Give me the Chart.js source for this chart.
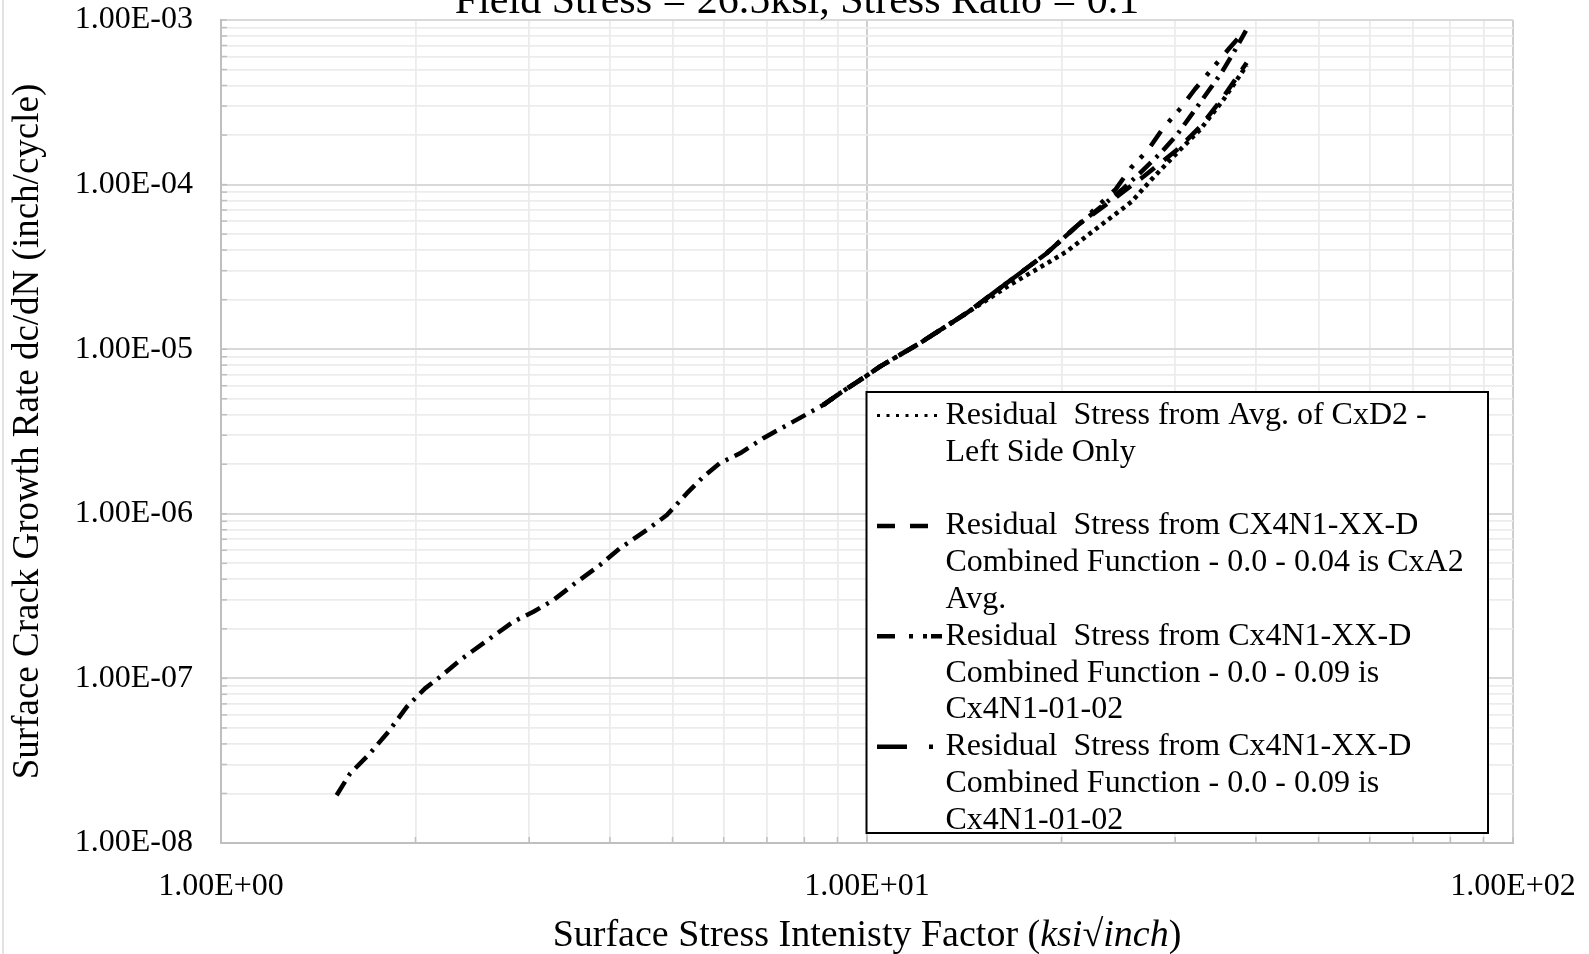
<!DOCTYPE html>
<html>
<head>
<meta charset="utf-8">
<script src="https://cdn.jsdelivr.net/npm/chart.js@4/dist/chart.umd.min.js"></script>
<style>
  html, body { margin: 0; padding: 0; background: #ffffff; }
  canvas { display: block; }
</style>
</head>
<body>
<canvas id="c" width="1589" height="954"></canvas>
<script>
// ---- text ----
const chartTitle = 'Field Stress = 26.5ksi, Stress Ratio = 0.1';
const yAxisTitle = 'Surface Crack Growth Rate dc/dN (inch/cycle)';
const xAxisTitleParts = [
  { text: 'Surface Stress Intenisty Factor (', italic: false },
  { text: 'ksi', italic: true },
  { text: '\u221A', italic: false },
  { text: 'inch', italic: true },
  { text: ')', italic: false }
];
const xTickLabels = ['1.00E+00', '1.00E+01', '1.00E+02'];
const yTickLabels = ['1.00E-08', '1.00E-07', '1.00E-06', '1.00E-05', '1.00E-04', '1.00E-03'];

const seriesLabels = [
  'Residual  Stress from Avg. of CxD2 -\nLeft Side Only\n',
  'Residual  Stress from CX4N1-XX-D\nCombined Function - 0.0 - 0.04 is CxA2\nAvg.',
  'Residual  Stress from Cx4N1-XX-D\nCombined Function - 0.0 - 0.09 is\nCx4N1-01-02',
  'Residual  Stress from Cx4N1-XX-D\nCombined Function - 0.0 - 0.09 is\nCx4N1-01-02'
];

// ---- data: stress intensity K (ksi*sqrt(in)) and growth rate dc/dN (in/cycle) ----
const cxd2K = [8.56, 9.08, 9.93, 10.47, 12.08, 14.27, 16.65, 19.2, 20.37, 22.0, 24.35, 25.7, 27.6, 30.2, 32.8, 35.6, 38.7];
const cxd2Rate = [4.59e-6, 5.4e-6, 6.8e-6, 7.84e-6, 1.09e-5, 1.66e-5, 2.46e-5, 3.41e-5, 3.92e-5, 4.95e-5, 6.71e-5, 7.89e-5, 1.08e-4, 1.56e-4, 2.16e-4, 3.27e-4, 5.3e-4];

const cxa2K = [8.56, 9.08, 9.93, 10.47, 12.08, 14.27, 16.45, 18.98, 21.12, 23.5, 26.8, 30.2, 32.8, 35.6, 38.7];
const cxa2Rate = [4.59e-6, 5.4e-6, 6.8e-6, 7.84e-6, 1.09e-5, 1.66e-5, 2.52e-5, 3.83e-5, 5.6e-5, 7.6e-5, 1.12e-4, 1.63e-4, 2.25e-4, 3.4e-4, 5.5e-4];

const cx4aK = [8.56, 9.08, 9.93, 10.47, 12.08, 14.27, 16.45, 18.98, 21.12, 22.6, 24.27, 25.6, 27.25, 28.75, 30.6, 32.2, 34.2, 36.3, 38.3];
const cx4aRate = [4.59e-6, 5.4e-6, 6.8e-6, 7.84e-6, 1.09e-5, 1.66e-5, 2.52e-5, 3.83e-5, 5.6e-5, 7.2e-5, 9.39e-5, 1.26e-4, 1.63e-4, 2.21e-4, 2.92e-4, 3.81e-4, 5.04e-4, 6.66e-4, 8.49e-4];

const cx4bK = [1.51, 1.584, 1.70, 1.816, 1.939, 2.07, 2.183, 2.344, 2.609, 2.835, 3.045, 3.27, 3.532, 3.862, 4.146, 4.56, 4.90, 5.26, 5.58, 5.92, 6.36, 6.91, 7.69, 8.56, 9.08, 9.93, 10.47, 12.08, 14.27, 16.45, 18.98, 21.12, 23.0, 24.8, 26.55, 28.45, 30.2, 31.9, 33.6, 35.4, 37.1, 38.6];
const cx4bRate = [1.95e-8, 2.64e-8, 3.5e-8, 4.74e-8, 6.72e-8, 8.7e-8, 1.02e-7, 1.29e-7, 1.75e-7, 2.21e-7, 2.54e-7, 2.99e-7, 3.78e-7, 4.89e-7, 6.17e-7, 7.97e-7, 9.83e-7, 1.33e-6, 1.68e-6, 2.03e-6, 2.33e-6, 2.88e-6, 3.63e-6, 4.59e-6, 5.4e-6, 6.8e-6, 7.84e-6, 1.09e-5, 1.66e-5, 2.52e-5, 3.83e-5, 5.6e-5, 7.3e-5, 9.3e-5, 1.19e-4, 1.55e-4, 2.01e-4, 2.71e-4, 3.6e-4, 4.8e-4, 6.53e-4, 8.61e-4];

// ---- line styles (plot dash + legend swatch dash) ----
const lineStyles = [
  { width: 4.5, dash: [4, 4.3], legendWidth: 3, legendDash: [3, 6.5] },
  { width: 4.5, dash: [18, 12], legendWidth: 4.5, legendDash: [18, 15, 18, 60] },
  { width: 4.5, dash: [18, 12, 4, 10, 4, 12], legendWidth: 4.5, legendDash: [18, 14, 4, 10, 4, 4, 11, 40] },
  { width: 4.5, dash: [16, 7, 3, 7], legendWidth: 4.5, legendDash: [30, 22, 4, 40] }
];

const FONT = '"Liberation Serif", "Times New Roman", serif';

function pairs(xs, ys) { return xs.map((x, i) => ({ x: x, y: ys[i] })); }
function isDecade(v) {
  const l = Math.log10(v);
  return Math.abs(l - Math.round(l)) < 1e-6;
}
function logTicks(minExp, maxExp) {
  const out = [];
  for (let e = minExp; e < maxExp; e++) {
    for (let m = 1; m <= 9; m++) out.push({ value: m * Math.pow(10, e) });
  }
  out.push({ value: Math.pow(10, maxExp) });
  return out;
}

const seriesData = [pairs(cxd2K, cxd2Rate), pairs(cxa2K, cxa2Rate), pairs(cx4aK, cx4aRate), pairs(cx4bK, cx4bRate)];

const datasets = seriesData.map((d, i) => ({
  label: seriesLabels[i],
  data: d,
  showLine: true,
  fill: false,
  borderColor: '#000000',
  backgroundColor: '#000000',
  borderWidth: lineStyles[i].width,
  borderDash: lineStyles[i].dash,
  borderCapStyle: 'butt',
  borderJoinStyle: 'round',
  pointRadius: 0,
  tension: 0
}));

// title, axis titles, inside ticks and the boxed legend
const decorations = {
  id: 'decorations',
  beforeDatasetsDraw(chart) {
    const ctx = chart.ctx;
    const xs = chart.scales.x, ys = chart.scales.y;
    const area = chart.chartArea;
    ctx.save();
    ctx.strokeStyle = '#bfbfbf';
    ctx.lineWidth = 1.5;
    xs.ticks.forEach(t => {
      const px = xs.getPixelForValue(t.value);
      ctx.beginPath(); ctx.moveTo(px, area.bottom); ctx.lineTo(px, area.bottom - 6); ctx.stroke();
    });
    ys.ticks.forEach(t => {
      const py = ys.getPixelForValue(t.value);
      ctx.beginPath(); ctx.moveTo(area.left, py); ctx.lineTo(area.left + 6, py); ctx.stroke();
    });
    ctx.restore();
  },
  afterDraw(chart) {
    const ctx = chart.ctx;
    const area = chart.chartArea;
    ctx.save();

    // outer frame edge
    ctx.strokeStyle = '#d9d9d9';
    ctx.lineWidth = 1.5;
    ctx.beginPath(); ctx.moveTo(3, 0); ctx.lineTo(3, chart.height); ctx.stroke();

    ctx.fillStyle = '#000000';
    // chart title (partly above the canvas edge)
    ctx.font = '42px ' + FONT;
    ctx.textAlign = 'center';
    ctx.textBaseline = 'alphabetic';
    ctx.fillText(chartTitle, 797, 12.5);

    // y axis title
    ctx.save();
    ctx.translate(28, (area.top + area.bottom) / 2);
    ctx.rotate(-Math.PI / 2);
    ctx.textAlign = 'center';
    ctx.textBaseline = 'middle';
    ctx.font = '37px ' + FONT;
    ctx.fillText(yAxisTitle, 0, 0);
    ctx.restore();

    // x axis title with italic quantity
    const fontFor = p => (p.italic ? 'italic ' : '') + '38px ' + FONT;
    let total = 0;
    xAxisTitleParts.forEach(p => { ctx.font = fontFor(p); total += ctx.measureText(p.text).width; });
    let x = (area.left + area.right) / 2 - total / 2;
    ctx.textAlign = 'left';
    ctx.textBaseline = 'middle';
    xAxisTitleParts.forEach(p => {
      ctx.font = fontFor(p);
      ctx.fillText(p.text, x, 936);
      x += ctx.measureText(p.text).width;
    });

    // legend box
    const box = { left: 866.5, top: 392, right: 1488, bottom: 833 };
    ctx.fillStyle = '#ffffff';
    ctx.fillRect(box.left, box.top, box.right - box.left, box.bottom - box.top);
    ctx.strokeStyle = '#000000';
    ctx.lineWidth = 2;
    ctx.strokeRect(box.left, box.top, box.right - box.left, box.bottom - box.top);

    const rowH = 36.8;
    let rowY = 415.5;
    ctx.font = '32px ' + FONT;
    ctx.textBaseline = 'middle';
    chart.data.datasets.forEach((ds, i) => {
      const st = lineStyles[i];
      ctx.save();
      ctx.strokeStyle = '#000000';
      ctx.lineWidth = st.legendWidth;
      ctx.setLineDash(st.legendDash);
      ctx.lineCap = 'butt';
      ctx.beginPath(); ctx.moveTo(877, rowY); ctx.lineTo(942, rowY); ctx.stroke();
      ctx.restore();
      ctx.fillStyle = '#000000';
      const lines = ds.label.split('\n');
      lines.forEach((ln, k) => { ctx.fillText(ln, 945.5, rowY + k * rowH); });
      rowY += lines.length * rowH;
    });
    ctx.restore();
  }
};

new Chart(document.getElementById('c'), {
  type: 'scatter',
  data: { datasets: datasets },
  plugins: [decorations],
  options: {
    responsive: false,
    animation: false,
    devicePixelRatio: 1,
    layout: { padding: { top: 20, right: 76, left: 0, bottom: 0 } },
    plugins: { legend: { display: false }, title: { display: false }, tooltip: { enabled: false } },
    scales: {
      x: {
        type: 'logarithmic',
        min: 1, max: 100,
        afterFit(scale) { scale.height = 111; scale.paddingLeft = 0; scale.paddingRight = 0; },
        afterBuildTicks(scale) { scale.ticks = logTicks(0, 2); },
        border: { display: true, color: '#bfbfbf', width: 2 },
        grid: {
          drawTicks: false,
          color: c => isDecade(c.tick.value) ? '#cfcfcf' : '#ececec',
          lineWidth: c => isDecade(c.tick.value) ? 2 : 1.8
        },
        ticks: {
          autoSkip: false,
          maxRotation: 0,
          padding: 24,
          color: '#000000',
          font: { family: FONT, size: 32 },
          callback: v => isDecade(v) ? xTickLabels[Math.round(Math.log10(v))] : ''
        }
      },
      y: {
        type: 'logarithmic',
        min: 1e-8, max: 1e-3,
        afterFit(scale) { scale.width = 221; scale.paddingTop = 0; scale.paddingBottom = 0; },
        afterBuildTicks(scale) { scale.ticks = logTicks(-8, -3); },
        border: { display: true, color: '#bfbfbf', width: 2 },
        grid: {
          drawTicks: false,
          color: c => isDecade(c.tick.value) ? '#d9d9d9' : '#ececec',
          lineWidth: c => isDecade(c.tick.value) ? 2 : 1.8
        },
        ticks: {
          autoSkip: false,
          padding: 28,
          color: '#000000',
          font: { family: FONT, size: 32 },
          callback: v => isDecade(v) ? yTickLabels[Math.round(Math.log10(v)) + 8] : ''
        }
      }
    }
  }
});
</script>
</body>
</html>
